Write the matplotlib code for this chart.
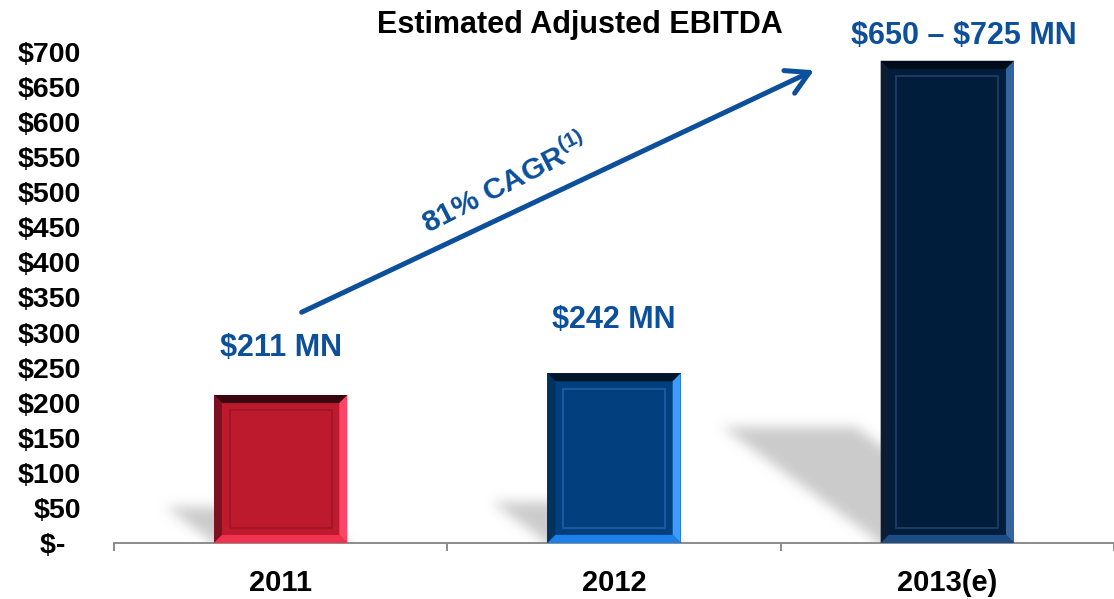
import matplotlib
matplotlib.use("Agg")
import numpy as np
import matplotlib.pyplot as plt
from matplotlib.patches import Polygon, Rectangle
from matplotlib.path import Path

# ── data ─────────────────────────────────────────────────────────────────────
years = ["2011", "2012", "2013(e)"]
ebitda = [211, 242, 687.5]          # 2013 bar = midpoint of $650-$725 guidance
value_labels = [r"\$211 MN", r"\$242 MN", r"\$650 – \$725 MN"]
y_ticks = list(range(0, 701, 50))
y_tick_labels = ["$-  "] + [f"${v}" for v in y_ticks[1:]]
title = "Estimated Adjusted EBITDA"
cagr_text = r"81% CAGR$^{(1)}$"

# ── styling ──────────────────────────────────────────────────────────────────
BLUE = "#0c4f9a"
FONT = "Liberation Sans"
plt.rcParams["font.family"] = [FONT, "DejaVu Sans"]
plt.rcParams["font.weight"] = "bold"
plt.rcParams["mathtext.fontset"] = "custom"
plt.rcParams["mathtext.rm"] = f"{FONT}:bold"
plt.rcParams["mathtext.bf"] = f"{FONT}:bold"

# face, top / left / right / bottom bevel, inner frame line
BAR_STYLES = [
    dict(face="#bd1a2e", top="#3a0610", left="#7c1221", right="#ff4468", bottom="#f0324f", line="#a31528"),
    dict(face="#023f7e", top="#00142a", left="#03325f", right="#3c9cff", bottom="#1b80ea", line="#1d5ca2"),
    dict(face="#011d3c", top="#000a18", left="#0b1c33", right="#3565a0", bottom="#1e4c84", line="#1f3d64"),
]
BAR_W = 0.40
BEV_X, BEV_Y = 0.024, 11.5      # bevel thickness in data units
IN_X, IN_Y = 0.047, 22          # inner frame inset

fig = plt.figure(figsize=(11.14, 5.99), dpi=100)
ax = fig.add_axes([114 / 1114, 56 / 599, 1000 / 1114, 491 / 599])
XLIM, YLIM = (-0.5, 2.5), (0, 700)
ax.set_xlim(*XLIM)
ax.set_ylim(*YLIM)

x = list(range(len(years)))

# ── soft ground shadows (blurred raster behind the bars) ─────────────────────
NX, NY, PAD = 1000, 491, 40
xs = np.linspace(XLIM[0], XLIM[1], NX)
ys = np.linspace(YLIM[0] - PAD * 700 / NY, YLIM[1], NY + PAD)
gx, gy = np.meshgrid(xs, ys)
mask = np.zeros(gx.shape)
for xi, h in zip(x, ebitda):
    x0, x1 = xi - BAR_W / 2, xi + BAR_W / 2
    dx, dy = h * 0.00069, h * 0.24
    poly = Path([(x0, -100), (x1, -100), (x1, 0), (x1 - dx, dy), (x0 - dx, dy), (x0, 0)])
    mask = np.maximum(mask, poly.contains_points(np.c_[gx.ravel(), gy.ravel()]).reshape(gx.shape))
k = np.exp(-0.5 * (np.arange(-18, 19) / 6.0) ** 2)
k /= k.sum()
blur = np.apply_along_axis(lambda r: np.convolve(r, k, mode="same"), 1, mask)
blur = np.apply_along_axis(lambda c: np.convolve(c, k, mode="same"), 0, blur)
blur = blur[PAD:]
rgba = np.zeros(blur.shape + (4,))
rgba[..., :3] = 0.74
rgba[..., 3] = blur * 0.78
ax.imshow(rgba, extent=(*XLIM, *YLIM), origin="lower", aspect="auto",
          interpolation="bilinear", zorder=1)

bars = ax.bar(x, ebitda, width=BAR_W, color=[s["face"] for s in BAR_STYLES], zorder=3)

# bevelled frame on each bar
for b, st in zip(bars, BAR_STYLES):
    x0, w, h = b.get_x(), b.get_width(), b.get_height()
    x1 = x0 + w
    ix0, ix1, iy0, iy1 = x0 + BEV_X, x1 - BEV_X, BEV_Y, h - BEV_Y
    sides = {
        "top": [(x0, h), (x1, h), (ix1, iy1), (ix0, iy1)],
        "left": [(x0, 0), (x0, h), (ix0, iy1), (ix0, iy0)],
        "right": [(x1, 0), (x1, h), (ix1, iy1), (ix1, iy0)],
        "bottom": [(x0, 0), (x1, 0), (ix1, iy0), (ix0, iy0)],
    }
    for k_, pts in sides.items():
        ax.add_patch(Polygon(pts, closed=True, facecolor=st[k_], edgecolor="none", zorder=4))
    ax.add_patch(Rectangle((x0 + IN_X, IN_Y), w - 2 * IN_X, h - 2 * IN_Y, facecolor="none",
                           edgecolor=st["line"], lw=1.3, zorder=5))

# value labels above bars
label_offsets = [(0, 34), (0, 38), (12, 18)]   # points
for xi, h, lab, off in zip(x, ebitda, value_labels, label_offsets):
    ax.annotate(lab, xy=(xi, h), xytext=off, textcoords="offset points",
                ha="center", va="center", fontsize=22, color=BLUE,
                fontweight="bold", annotation_clip=False)

# CAGR arrow + text
ax.annotate("", xy=(1.60, 674), xytext=(0.063, 329),
            arrowprops=dict(arrowstyle="->,head_length=0.8,head_width=0.45",
                            color=BLUE, lw=3.6, mutation_scale=20,
                            shrinkA=0, shrinkB=0), annotation_clip=False)
ax.text(0.675, 512, cagr_text, rotation=27, rotation_mode="anchor",
        ha="center", va="center", fontsize=21.5, color=BLUE, fontweight="bold")

# axes
for s in ["top", "right", "left"]:
    ax.spines[s].set_visible(False)
ax.spines["bottom"].set_color("#8c8c8c")
ax.spines["bottom"].set_linewidth(1.4)

ax.set_yticks(y_ticks)
ax.set_yticklabels(y_tick_labels, fontsize=20.5, fontweight="bold")
ax.tick_params(axis="y", length=0, pad=24)

ax.set_xticks(x)
ax.set_xticklabels(years, fontsize=21, fontweight="bold")
ax.set_xticks([-0.5, 0.5, 1.5, 2.5], minor=True)
ax.tick_params(axis="x", which="major", length=0, pad=19)
ax.tick_params(axis="x", which="minor", length=6, width=1.4, color="#8c8c8c", direction="out")

fig.text(580 / 1114, 1 - 25 / 599, title, ha="center", va="center",
         fontsize=22, fontweight="bold", color="black")

fig.savefig("out.png", dpi=100)
